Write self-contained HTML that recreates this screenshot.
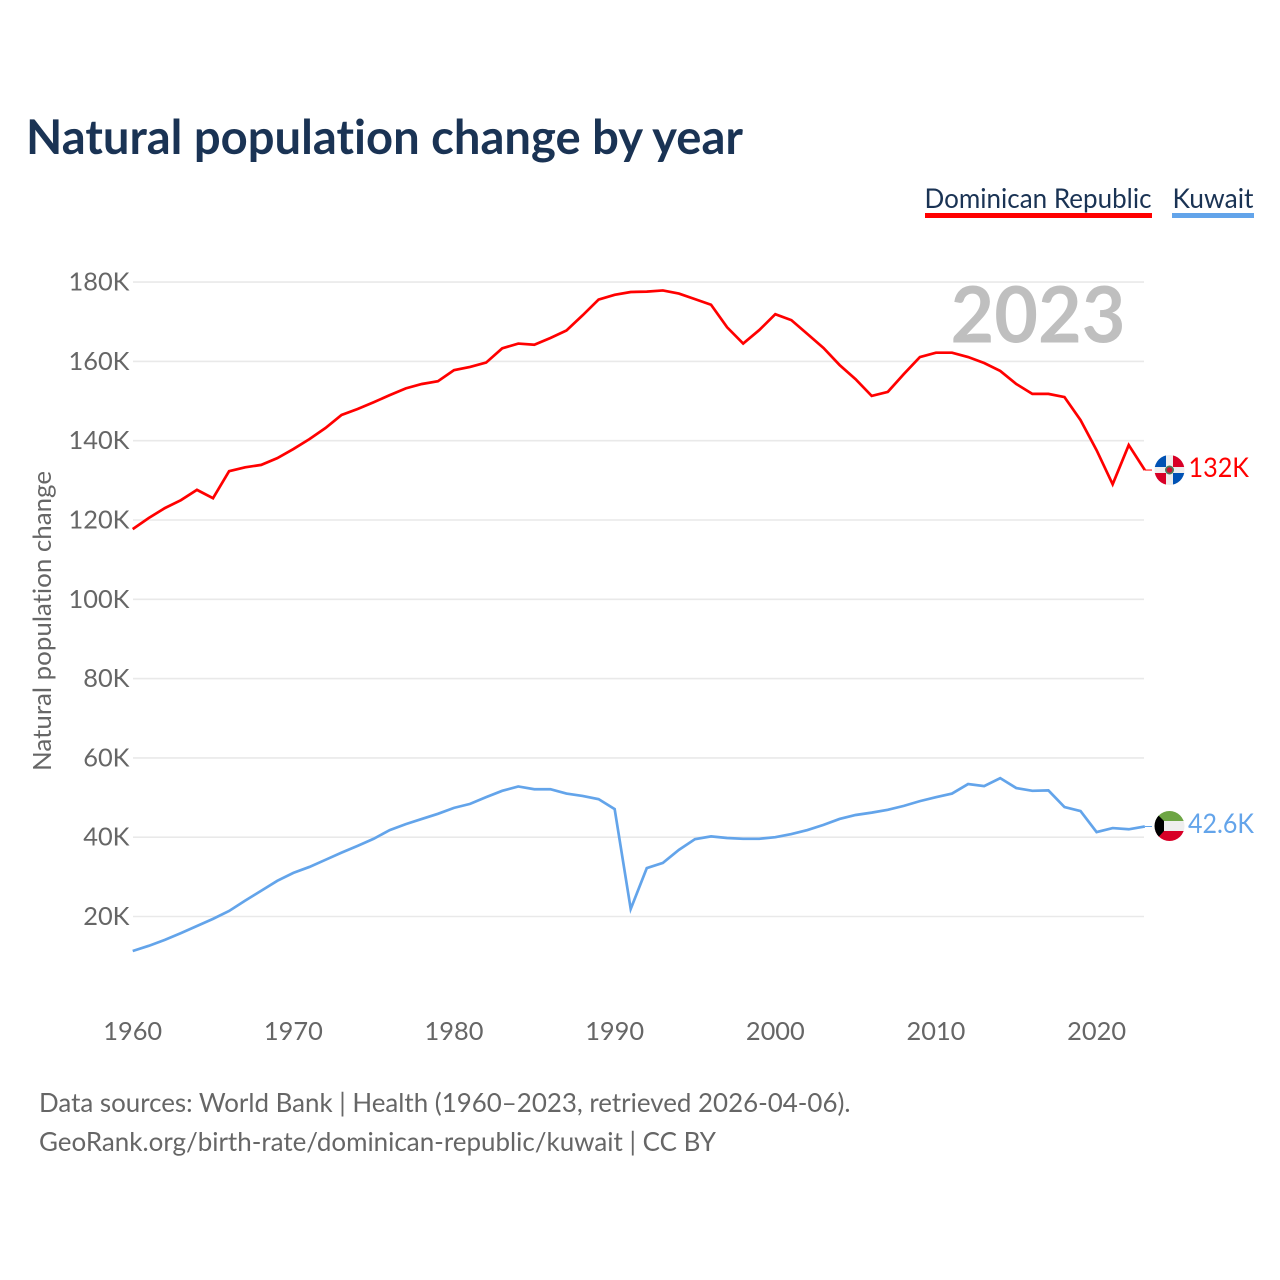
<!DOCTYPE html>
<html lang="en">
<head>
<meta charset="utf-8">
<title>Natural population change by year</title>
<style>
html,body{margin:0;padding:0;background:#fff;}
svg{display:block;}
text{font-family:"Lato","Carlito","Liberation Sans",sans-serif;font-variant-ligatures:none;}
</style>
</head>
<body>
<svg id="chart" xmlns="http://www.w3.org/2000/svg" width="1280" height="1280" viewBox="0 0 1280 1280">
  <rect x="0" y="0" width="1280" height="1280" fill="#ffffff"/>
  <text x="26" y="154" font-size="47.5" font-weight="700" fill="#1a3354" textLength="717" lengthAdjust="spacingAndGlyphs">Natural population change by year</text>

  <g>
    <g>
      <text x="924.5" y="208" font-size="27.5" fill="#1a3354" textLength="227" lengthAdjust="spacingAndGlyphs">Dominican Republic</text>
      <rect x="925" y="213" width="227" height="5" fill="#ff0000"/>
    </g>
    <g>
      <text x="1172.5" y="208" font-size="27.5" fill="#1a3354" textLength="81" lengthAdjust="spacingAndGlyphs">Kuwait</text>
      <rect x="1172" y="213" width="82" height="5" fill="#63a4ea"/>
    </g>
  </g>

  <g id="grid"></g>
  <g id="yticks"></g>
  <g id="xticks"></g>

  <text x="950.5" y="342.5" font-size="78" font-weight="700" fill="#bfbfbf" textLength="175" lengthAdjust="spacingAndGlyphs">2023</text>

  <text transform="translate(51,621) rotate(-90)" text-anchor="middle" font-size="25.5" fill="#666666" textLength="300" lengthAdjust="spacingAndGlyphs">Natural population change</text>

  <g id="series"></g>

  <defs>
    <clipPath id="clip-do"><circle cx="1169.5" cy="470" r="15"/></clipPath>
    <clipPath id="clip-kw"><circle cx="1169.5" cy="826" r="15"/></clipPath>
  </defs>

  <g clip-path="url(#clip-do)">
    <rect x="1154" y="455" width="31" height="31" fill="#eeeeee"/>
    <rect x="1154" y="455" width="12" height="12" fill="#0052b4"/>
    <rect x="1173" y="455" width="12" height="12" fill="#d80027"/>
    <rect x="1154" y="473" width="12" height="13" fill="#d80027"/>
    <rect x="1173" y="473" width="12" height="13" fill="#0052b4"/>
    <circle cx="1169.5" cy="470" r="4.5" fill="#4d7a5a"/>
    <circle cx="1169.5" cy="470" r="2.8" fill="#c8102e"/>
  </g>
  <text x="1188.5" y="477" font-size="27" fill="#ff0000" textLength="60.5" lengthAdjust="spacingAndGlyphs">132K</text>

  <g clip-path="url(#clip-kw)">
    <rect x="1154" y="811" width="31" height="10" fill="#6da544"/>
    <rect x="1154" y="821" width="31" height="10" fill="#eeeeee"/>
    <rect x="1154" y="831" width="31" height="11" fill="#d80027"/>
    <polygon points="1154,811 1164,821 1164,831 1154,842" fill="#000000"/>
  </g>
  <text x="1188" y="833" font-size="27" fill="#63a4ea" textLength="66" lengthAdjust="spacingAndGlyphs">42.6K</text>

  <text x="39" y="1112" font-size="26.5" fill="#666666" textLength="811.5" lengthAdjust="spacingAndGlyphs">Data sources: World Bank | Health (1960–2023, retrieved 2026-04-06).</text>
  <text x="39" y="1151" font-size="26.5" fill="#666666" textLength="677" lengthAdjust="spacingAndGlyphs">GeoRank.org/birth-rate/dominican-republic/kuwait | CC BY</text>
</svg>

<script>
const years = [1960,1961,1962,1963,1964,1965,1966,1967,1968,1969,1970,1971,1972,1973,1974,1975,1976,1977,1978,1979,1980,1981,1982,1983,1984,1985,1986,1987,1988,1989,1990,1991,1992,1993,1994,1995,1996,1997,1998,1999,2000,2001,2002,2003,2004,2005,2006,2007,2008,2009,2010,2011,2012,2013,2014,2015,2016,2017,2018,2019,2020,2021,2022,2023];
const dominicanRepublic = [117.7,120.5,123,125,127.6,125.5,132.3,133.3,133.9,135.6,137.9,140.4,143.2,146.5,148,149.7,151.5,153.2,154.3,155,157.8,158.6,159.7,163.3,164.5,164.2,165.9,167.8,171.6,175.6,176.8,177.5,177.6,177.9,177.1,175.7,174.3,168.6,164.5,167.9,171.9,170.4,166.9,163.4,159.1,155.5,151.3,152.3,156.8,161.1,162.2,162.2,161.1,159.6,157.6,154.3,151.8,151.8,151,145.2,137.6,129,138.9,132.6];
const kuwait = [11.3,12.6,14.1,15.8,17.6,19.4,21.4,24,26.5,29,31,32.5,34.3,36.1,37.8,39.6,41.8,43.3,44.6,45.9,47.4,48.4,50.1,51.7,52.8,52.1,52.1,51,50.4,49.6,47.1,21.9,32.2,33.5,36.8,39.5,40.2,39.8,39.6,39.6,40,40.8,41.8,43.1,44.6,45.6,46.2,46.9,47.9,49.1,50.1,51,53.4,52.9,54.9,52.4,51.7,51.8,47.6,46.6,41.3,42.3,42,42.7];
const yTickValues = [20,40,60,80,100,120,140,160,180];
const yTickLabels = ["20K","40K","60K","80K","100K","120K","140K","160K","180K"];
const xTickValues = [1960,1970,1980,1990,2000,2010,2020];
const xTickLabels = ["1960","1970","1980","1990","2000","2010","2020"];

const NS = "http://www.w3.org/2000/svg";
function xScale(year){ return 132.7 + (year - 1960) * 16.065; }
function yScale(v){ return 282.1 + (180 - v) * 3.965; }

const gridGroup = document.getElementById("grid");
const yTickGroup = document.getElementById("yticks");
const xTickGroup = document.getElementById("xticks");
const seriesGroup = document.getElementById("series");

yTickValues.forEach(function(v, i){
  const line = document.createElementNS(NS, "line");
  
  
  line.setAttribute("x1", 133);
  line.setAttribute("x2", 1144);
  line.setAttribute("y1", yScale(v));
  line.setAttribute("y2", yScale(v));
  line.setAttribute("stroke", "#e9e9e9");
  line.setAttribute("stroke-width", "1.6");
  gridGroup.appendChild(line);

  const label = document.createElementNS(NS, "text");
  
  
  label.setAttribute("x", 129.5);
  label.setAttribute("y", yScale(v) + 8.5);
  label.setAttribute("text-anchor", "end");
  label.setAttribute("font-size", "25.4");
  label.setAttribute("fill", "#666666");
  label.textContent = yTickLabels[i];
  yTickGroup.appendChild(label);
});

xTickValues.forEach(function(year, i){
  const label = document.createElementNS(NS, "text");
  
  
  label.setAttribute("x", xScale(year));
  label.setAttribute("y", 1040);
  label.setAttribute("text-anchor", "middle");
  label.setAttribute("font-size", "25.4");
  label.setAttribute("fill", "#666666");
  label.textContent = xTickLabels[i];
  xTickGroup.appendChild(label);
});

function drawSeries(values, color){
  const d = values.map(function(v, i){
    return (i ? "L" : "M") + xScale(years[i]).toFixed(2) + " " + yScale(v).toFixed(2);
  }).join(" ");
  const path = document.createElementNS(NS, "path");
  path.setAttribute("d", d);
  path.setAttribute("fill", "none");
  path.setAttribute("stroke", color);
  path.setAttribute("stroke-width", "2.7");
  path.setAttribute("stroke-linejoin", "miter");
  seriesGroup.appendChild(path);
  return path;
}
function drawConnector(values, color){
  const last = values[values.length - 1];
  const line = document.createElementNS(NS, "line");
  line.setAttribute("x1", xScale(years[years.length - 1]));
  line.setAttribute("x2", 1152);
  line.setAttribute("y1", yScale(last));
  line.setAttribute("y2", yScale(last));
  line.setAttribute("stroke", color);
  line.setAttribute("stroke-width", "1");
  seriesGroup.appendChild(line);
  return line;
}

const drLine = drawSeries(dominicanRepublic, "#ff0000");


const kwLine = drawSeries(kuwait, "#63a4ea");


const drConn = drawConnector(dominicanRepublic, "#ff0000");


const kwConn = drawConnector(kuwait, "#63a4ea");


</script>
</body>
</html>
